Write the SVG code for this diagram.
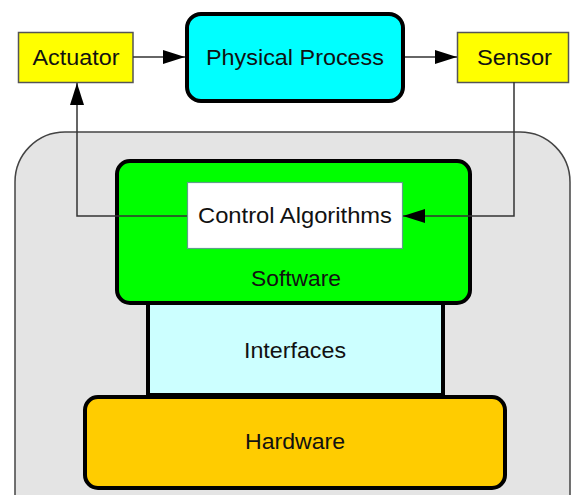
<svg xmlns="http://www.w3.org/2000/svg" width="571" height="495" viewBox="0 0 571 495">
  <style>
    .lbl { font-family: "Liberation Sans", Arial, sans-serif; font-size: 22px; fill: #111; text-anchor: middle; }
    .io { fill: #ffff00; stroke: #555; stroke-width: 1.5; }
    .heavy { stroke: #000; stroke-width: 4; }
    .wire { fill: none; stroke: #333; stroke-width: 1.5; }
  </style>
  <defs>
    <marker id="arrow" markerUnits="userSpaceOnUse" markerWidth="22" markerHeight="14" refX="22" refY="7" orient="auto">
      <path d="M0,0 L22,7 L0,14 z" fill="#000"/>
    </marker>
  </defs>

  <!-- embedded system container -->
  <g id="container">
    <rect x="15" y="132" width="555" height="420" rx="50" ry="50" fill="#e4e4e4" stroke="#444" stroke-width="1.5"/>
  </g>

  <g id="actuator">
    <rect class="io" x="18.5" y="32.5" width="114.5" height="50"/>
    <text class="lbl" x="76" y="65" textLength="87" lengthAdjust="spacingAndGlyphs">Actuator</text>
  </g>

  <g id="physical-process">
    <rect class="heavy" x="187" y="14" width="216" height="87" rx="14" ry="14" fill="#00ffff"/>
    <text class="lbl" x="295" y="65" textLength="178" lengthAdjust="spacingAndGlyphs">Physical Process</text>
  </g>

  <g id="sensor">
    <rect class="io" x="457.5" y="32.5" width="111" height="50"/>
    <text class="lbl" x="514.5" y="65" textLength="75" lengthAdjust="spacingAndGlyphs">Sensor</text>
  </g>

  <g id="interfaces">
    <rect class="heavy" x="148" y="290" width="295" height="105" fill="#ccffff"/>
    <text class="lbl" x="295" y="358" textLength="102" lengthAdjust="spacingAndGlyphs">Interfaces</text>
  </g>

  <g id="hardware">
    <rect class="heavy" x="85" y="397" width="420" height="91" rx="13" ry="13" fill="#ffcc00"/>
    <text class="lbl" x="295" y="449" textLength="100" lengthAdjust="spacingAndGlyphs">Hardware</text>
  </g>

  <g id="software">
    <rect class="heavy" x="117" y="161" width="353" height="142" rx="13" ry="13" fill="#00ff00"/>
    <text class="lbl" x="296" y="286" textLength="90" lengthAdjust="spacingAndGlyphs">Software</text>
  </g>

  <g id="control-algorithms">
    <rect x="187.5" y="182.5" width="215" height="66" fill="#ffffff" stroke="#5f9f8a" stroke-width="1.2"/>
    <text class="lbl" x="295" y="223" textLength="194" lengthAdjust="spacingAndGlyphs">Control Algorithms</text>
  </g>

  <!-- control loop connectors -->
  <g id="connectors">
    <path class="wire" d="M133,57 H185" marker-end="url(#arrow)"/>
    <path class="wire" d="M405,57 H457" marker-end="url(#arrow)"/>
    <path class="wire" d="M514,82 V216 H403" marker-end="url(#arrow)"/>
    <path class="wire" d="M187,216 H77 V83" marker-end="url(#arrow)"/>
  </g>
</svg>
